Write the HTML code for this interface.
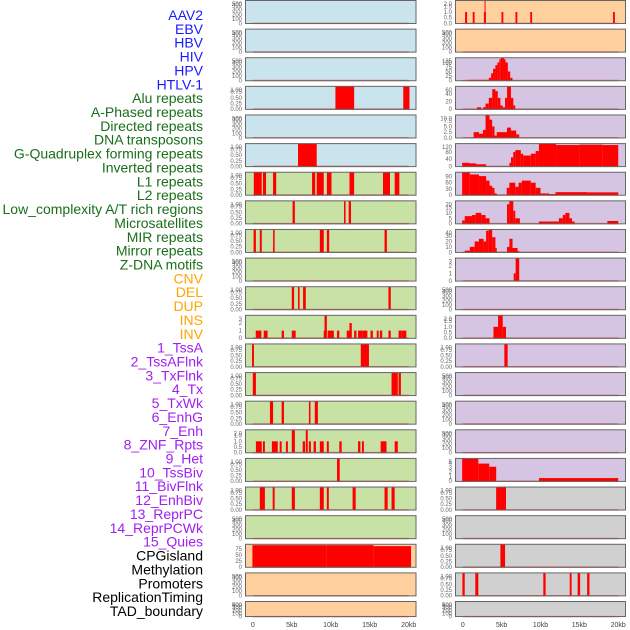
<!DOCTYPE html>
<html><head><meta charset="utf-8">
<style>
html,body{margin:0;padding:0;background:#fff;width:630px;height:630px;overflow:hidden;}
svg{display:block;font-family:"Liberation Sans",sans-serif;}
</style></head>
<body>
<svg id="chart" width="630" height="630" viewBox="0 0 630 630" xmlns="http://www.w3.org/2000/svg"></svg>
<script>
// ---- data ----
const labelNames = ["AAV2","EBV","HBV","HIV","HPV","HTLV-1","Alu repeats","A-Phased repeats","Directed repeats","DNA transposons","G-Quadruplex forming repeats","Inverted repeats","L1 repeats","L2 repeats","Low_complexity A/T rich regions","Microsatellites","MIR repeats","Mirror repeats","Z-DNA motifs","CNV","DEL","DUP","INS","INV","1_TssA","2_TssAFlnk","3_TxFlnk","4_Tx","5_TxWk","6_EnhG","7_Enh","8_ZNF_Rpts","9_Het","10_TssBiv","11_BivFlnk","12_EnhBiv","13_ReprPC","14_ReprPCWk","15_Quies","CPGisland","Methylation","Promoters","ReplicationTiming","TAD_boundary"];
const labelGroups = [6,13,5,15,5];
const labelColors = ["#1a1aff","#1a6e1a","#ffa500","#a020f0","#000000"];

const xTickValues = [0,5,10,15,20];
const xTickLabels = ["0","5kb","10kb","15kb","20kb"];

const ticks500 = [0,100,200,300,400,500];
const ticks1 = [0,0.25,0.5,0.75,1];
const ticks3 = [0,1,2,3];
const ticks2 = [0,0.5,1,1.5,2];
const ticks2i = [0,1,2,3];

// left column panels: [start kb, end kb, value]
const L3 = [[10.6,13.0,1],[19.3,20.1,1]];
const L5 = [[5.8,8.2,1]];
const L6 = [[0.13,1.15,1],[1.3,1.7,1],[2.6,3.0,1],[7.6,8.0,1],[8.2,9.1,1],[9.5,10.1,1],[12.4,13.0,1],[16.7,17.6,1],[18.2,18.8,1]];
const L7 = [[5.1,5.4,1],[11.7,11.9,1],[12.3,12.6,1]];
const L8 = [[0.1,0.4,1],[0.9,1.15,1],[2.6,2.8,1],[8.6,9.1,1],[9.5,9.8,1],[16.9,17.2,1]];
const L10 = [[5.0,5.3,1],[5.8,6.0,1],[6.45,6.8,1],[17.4,17.7,1]];
const L11 = [[0.38,1.1,1],[1.4,1.9,1],[3.7,4.0,1],[5.0,5.5,1],[9.1,9.45,1],[9.2,9.5,3],[9.6,10.4,1],[10.8,11.1,1],[12.05,12.65,1],[12.4,12.7,2],[13.0,13.3,1],[13.5,14.1,1],[14.1,14.7,1],[15.1,15.4,1],[15.9,16.15,1],[16.3,16.6,1],[17.4,17.7,1],[18.7,19.1,1],[19.1,19.7,1]];
const L12 = [[-0.1,0.15,1],[13.85,14.9,1]];
const L13 = [[0,0.4,1],[17.8,18.6,1],[18.7,19.0,1]];
const L14 = [[2.2,2.6,1],[3.7,4.0,1],[7.2,7.4,1],[7.95,8.35,1]];
const L15 = [[0.4,1.15,1],[1.3,1.55,1],[2.45,3.2,1],[3.45,3.7,1],[4.25,4.5,1],[5.0,5.4,2],[6.4,6.7,1],[6.8,7.05,2],[7.2,7.45,1],[7.8,8.1,1],[8.6,9.1,1],[9.5,9.75,1],[11.1,11.4,1],[13.5,13.8,1],[14.0,14.25,1],[16.4,17.15,1],[18.2,18.6,1]];
const L16 = [[10.8,11.15,1]];
const L17 = [[0.9,1.55,1],[2.55,2.8,1],[5.0,5.4,1],[8.6,9.1,1],[9.5,9.75,1],[12.8,13.2,1],[16.9,17.3,1],[17.8,18.2,1]];
const L19 = [[-0.05,9.5,92],[9.5,15.5,92],[15.5,20.3,88]];

// right column panels
const R0 = [[0.3,0.55,1],[1.28,1.52,1],[2.72,2.98,1],[2.8,2.9,2],[4.98,5.22,1],[6.78,7.02,1],[8.68,8.92,1],[19.33,19.57,1]];
const R2 = [[0.8,3.35,4],[3.35,3.65,15],[3.65,3.9,40],[3.9,4.2,65],[4.2,4.45,85],[4.45,4.7,100],[4.7,4.9,118],[4.9,5.3,125],[5.3,5.5,118],[5.5,5.8,100],[5.8,6.1,50],[6.1,6.4,15]];
const R3 = [[1.83,2.38,5],[2.6,2.93,5],[2.93,3.35,15],[3.35,3.8,30],[3.8,4.2,53],[4.2,4.5,48],[4.5,4.84,30],[4.84,5.14,10],[5.14,5.44,5],[5.44,5.7,30],[5.7,6.2,60],[6.2,6.5,30],[6.5,6.75,10]];
const R4 = [[1.4,2.08,2.5],[2.08,2.6,1.8],[2.6,2.93,3.5],[2.93,3.44,10],[3.44,3.78,8],[3.78,4.08,5],[4.08,4.37,1],[4.37,5.69,2.5],[5.69,6.2,4.5],[6.2,6.88,3.2],[6.88,7.26,1.5]];
const R5 = [[-0.08,0.8,20],[0.8,1.74,17],[1.74,3.0,12],[6.0,6.2,20],[6.2,6.5,50],[6.5,6.75,80],[6.75,7.47,90],[7.47,7.77,70],[7.77,8.75,60],[8.75,9.38,70],[9.38,9.8,85],[9.8,12,124],[12,15,118],[15,18,120],[18,20,118]];
const R6 = [[-0.08,0.9,110],[0.9,2.08,100],[2.08,3.0,92],[3.0,3.44,70],[3.44,3.78,45],[3.78,4.08,35],[4.08,4.37,8],[5.65,5.99,35],[5.99,6.75,60],[6.75,7.18,40],[7.18,7.6,60],[7.6,8.75,70],[8.75,9.38,60],[9.38,10.0,35],[10.0,11.1,8],[11.1,11.93,5],[11.93,16,14],[16,20,13]];
const R7 = [[-0.08,0.25,3],[0.25,1.19,7],[1.19,1.66,8],[1.66,2.38,10],[2.38,2.93,8],[2.93,3.44,5],[5.69,5.99,18],[5.99,6.5,21],[6.5,6.75,12],[6.75,7.35,5],[9.8,12.36,2],[12.36,12.87,5],[12.87,13.2,8],[13.2,13.72,10],[13.72,14.05,5],[14.05,14.4,2],[18.6,20,2.5]];
const R8 = [[0.25,0.9,3],[0.9,1.53,10],[1.53,2.08,20],[2.08,2.68,25],[2.68,3.0,20],[3.0,3.35,40],[3.35,3.78,42],[3.78,4.2,28],[4.2,4.37,8],[5.69,6.0,10],[6.0,6.4,25],[6.4,7.05,8],[7.05,7.26,2]];
const R9 = [[6.55,6.8,1],[6.8,7.26,3]];
const R11 = [[3.95,4.54,1],[4.54,5.14,2],[5.14,5.56,1]];
const R12 = [[5.35,5.77,1]];
const R16 = [[-0.08,2.0,5],[2.0,3.4,3.9],[3.4,4.3,3.2],[9.8,20,0.7]];
const R17 = [[4.29,5.56,1]];
const R19 = [[4.84,5.44,1]];
const R20 = [[-0.05,0.25,1],[1.61,2.0,1],[10.36,10.66,1],[13.76,14.0,1],[14.78,15.1,1],[16.0,16.3,1]];

// ---- panel config (data/ticks per row) ----
const leftPanels = [[null,ticks500],[null,ticks500],[null,ticks500],[L3,ticks1],[null,ticks500],[L5,ticks1],[L6,ticks1],[L7,ticks1],[L8,ticks1],[null,ticks500],[L10,ticks1],[L11,ticks3],[L12,ticks1],[L13,ticks1],[L14,ticks1],[L15,ticks2],[L16,ticks1],[L17,ticks1],[null,ticks500],[L19,[0,25,50,75]],[null,ticks500],[null,ticks500]];
const leftYMax = [500,500,500,1,500,1,1,1,1,500,1,3,1,1,1,2,1,1,500,95,500,500];
const rightPanels = [[R0,ticks2],[null,ticks500],[R2,[0,25,50,75,100,125]],[R3,[0,20,40,60]],[R4,[0,2.5,5,7.5,10]],[R5,[0,40,80,120]],[R6,[0,30,60,90]],[R7,[0,5,10,15,20]],[R8,[0,10,20,30,40]],[R9,ticks2i],[null,ticks500],[R11,ticks2],[R12,ticks1],[null,ticks500],[null,ticks500],[null,ticks500],[R16,[0,1,2,3,4,5]],[R17,ticks1],[null,ticks500],[R19,ticks1],[R20,ticks1],[null,ticks500]];
const rightYMax = [2,500,125,60,10,125,110,21,42,3,500,2,1,500,500,500,5,1,500,1,1,500];

const leftColors = ["#c9e4ec","#c9e4ec","#c9e4ec","#c9e4ec","#c9e4ec","#c9e4ec","#c8e1a5","#c8e1a5","#c8e1a5","#c8e1a5","#c8e1a5","#c8e1a5","#c8e1a5","#c8e1a5","#c8e1a5","#c8e1a5","#c8e1a5","#c8e1a5","#c8e1a5","#ffd09e","#ffd09e","#ffd09e"];
const rightColors = ["#ffd09e","#ffd09e","#d5c5e2","#d5c5e2","#d5c5e2","#d5c5e2","#d5c5e2","#d5c5e2","#d5c5e2","#d5c5e2","#d5c5e2","#d5c5e2","#d5c5e2","#d5c5e2","#d5c5e2","#d5c5e2","#d5c5e2","#d0d0d0","#d0d0d0","#d0d0d0","#d0d0d0","#d0d0d0"];

// ---- drawing ----
const NS = "http://www.w3.org/2000/svg";
const svg = document.getElementById("chart");
function mk(tag, attrs, parent){ const e=document.createElementNS(NS,tag); for(const k in attrs) e.setAttribute(k,attrs[k]); (parent||svg).appendChild(e); return e; }

// labels
let li=0;
labelGroups.forEach((n,g)=>{ for(let j=0;j<n;j++){ const t=mk("text",{x:203,y:15+li*13.86+5,"text-anchor":"end","font-size":"14",fill:labelColors[g]}); t.textContent=labelNames[li];


li++; } });

const cols = [{x0:245,x1:416.5,panels:leftPanels,ymax:leftYMax,colors:leftColors,name:'left'},{x0:455,x1:626,panels:rightPanels,ymax:rightYMax,colors:rightColors,name:'right'}];
const kbMin=-1, kbMax=21;
function fmt(v,ticks){ if(ticks===ticks1) return v.toFixed(2); if(ticks===ticks2||ticks.indexOf(2.5)>=0) return v.toFixed(1); return String(v); }

cols.forEach(c=>{
  const xs = kb => c.x0 + (kb-kbMin)/(kbMax-kbMin)*(c.x1-c.x0);
  c.panels.forEach((p,i)=>{
    const top = i*28.62, h = (i===21)?16:24, bot = top+h;
    const M = c.ymax[i];
    const ys = v => bot - (v + 0.03*M)/(1.06*M)*h;
    const g = mk("g",{});
    
    
    const bg = mk("rect",{x:c.x0,y:top+0.5,width:c.x1-c.x0,height:h-1,fill:c.colors[i]},g);
    
    
    // baseline
    const bl = mk("line",{x1:xs(0),x2:xs(20),y1:ys(0),y2:ys(0),stroke:"rgba(230,0,0,0.45)","stroke-width":1.5},g);
    
    
    const data=p[0];
    if(data) data.forEach(s=>{
      const r = mk("rect",{x:xs(s[0]),y:ys(s[2]),width:Math.max(1,xs(s[1])-xs(s[0])),height:ys(0)-ys(s[2])+0.5,fill:"#ff0000"},g);
      
      
    });
    mk("rect",{x:c.x0+0.5,y:top+0.5,width:c.x1-c.x0-1,height:h-1,fill:"none",stroke:"#666","stroke-width":1},g);
    // y ticks
    p[1].forEach(v=>{
      const t = mk("text",{x:c.x0-3,y:Math.min(bot,Math.max(top+4,ys(v)))+2,"text-anchor":"end","font-size":"6",fill:"#666"},g);
      t.textContent = fmt(v,p[1]);
      
      
    });
  });
  xTickValues.forEach((v,k)=>{
    const t = mk("text",{x:xs(v),y:627,"text-anchor":"middle","font-size":"7",fill:"#444"});
    t.textContent = xTickLabels[k];
    
    
  });
});
</script>
</body></html>
